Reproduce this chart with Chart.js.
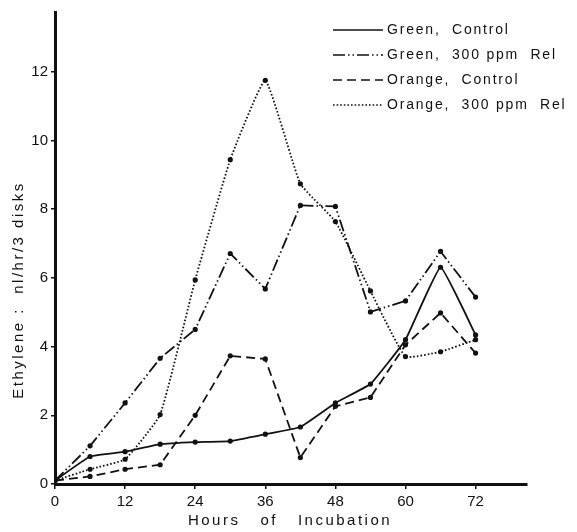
<!DOCTYPE html>
<html>
<head>
<meta charset="utf-8">
<script src="https://cdn.jsdelivr.net/npm/chart.js@4.4.0/dist/chart.umd.min.js"></script>
<style>
  html, body { margin: 0; padding: 0; background: #fff; }
</style>
</head>
<body>
<canvas id="chart" width="577" height="532"></canvas>
<script>
// --- data ---
const hours = [0, 6, 12, 18, 24, 30, 36, 42, 48, 54, 60, 66, 72];
const greenControl = [0.1, 0.80, 0.94, 1.16, 1.22, 1.25, 1.45, 1.66, 2.36, 2.91, 4.2, 6.31, 4.34];
const greenRel     = [0.1, 1.11, 2.36, 3.66, 4.50, 6.71, 5.68, 8.11, 8.08, 5.01, 5.33, 6.77, 5.44];
const orangeControl = [0.1, 0.22, 0.43, 0.56, 2.0, 3.73, 3.64, 0.77, 2.26, 2.52, 4.05, 4.98, 3.81];
const orangeRel    = [0.1, 0.43, 0.72, 2.02, 5.94, 9.44, 11.75, 8.74, 7.64, 5.62, 3.71, 3.85, 4.2];
const seriesNames = ['Green,  Control', 'Green,  300 ppm  Rel', 'Orange,  Control', 'Orange,  300 ppm  Rel'];
const xTicks = [0, 12, 24, 36, 48, 60, 72];
const yTicks = [0, 2, 4, 6, 8, 10, 12];

const ink = '#111';
const fontFamily = '"Liberation Sans", Arial, sans-serif';

const toPoints = vals => hours.map((h, i) => ({ x: h, y: vals[i] }));

function series(label, vals, dash, tension) {
  return {
    label,
    data: toPoints(vals),
    borderColor: ink,
    backgroundColor: ink,
    borderWidth: 1.8,
    borderDash: dash,
    tension,
    pointRadius: 2.6,
    pointBackgroundColor: ink,
    pointBorderWidth: 0,
    fill: false
  };
}

// legend + axis titles drawn by hand, with letter spacing like the print
const overlayText = {
  id: 'overlayText',
  afterDraw(chart) {
    const ctx = chart.ctx;
    ctx.save();
    ctx.fillStyle = ink;
    ctx.strokeStyle = ink;
    ctx.textBaseline = 'middle';
    ctx.font = '14px ' + fontFamily;
    ctx.letterSpacing = '1.8px';

    chart.data.datasets.forEach((ds, i) => {
      const y = 30 + i * 25;
      ctx.lineWidth = 1.6;
      ctx.setLineDash(ds.borderDash || []);
      ctx.beginPath();
      ctx.moveTo(333, y);
      ctx.lineTo(383, y);
      ctx.stroke();
      ctx.setLineDash([]);
      ctx.fillText(ds.label, 387, y);
    });

    ctx.font = '15px ' + fontFamily;
    ctx.letterSpacing = '2.5px';
    ctx.textAlign = 'center';
    ctx.fillText('Hours   of   Incubation', 290, 521);

    ctx.translate(19, 290);
    ctx.rotate(-Math.PI / 2);
    ctx.fillText('Ethylene :  nl/hr/3 disks', 0, 0);
    ctx.restore();
  }
};

new Chart(document.getElementById('chart'), {
  type: 'line',
  data: {
    datasets: [
      series(seriesNames[0], greenControl, [], 0.1),
      series(seriesNames[1], greenRel, [12, 3, 1.5, 3, 1.5, 3], 0),
      series(seriesNames[2], orangeControl, [9, 5], 0),
      series(seriesNames[3], orangeRel, [1.6, 2], 0.12)
    ]
  },
  options: {
    responsive: false,
    animation: false,
    layout: { padding: { top: 10, right: 50, left: 0, bottom: 0 } },
    plugins: {
      legend: { display: false },
      tooltip: { enabled: false }
    },
    scales: {
      x: {
        type: 'linear',
        min: 0,
        max: 80.8,
        afterBuildTicks: s => { s.ticks = xTicks.map(v => ({ value: v })); },
        afterFit: s => { s.height = 48; },
        grid: { drawOnChartArea: false, drawTicks: true, tickLength: 5, color: ink, lineWidth: 1.5 },
        border: { display: true, width: 3, color: ink },
        ticks: { color: ink, font: { size: 15, family: fontFamily }, padding: 4, maxRotation: 0 }
      },
      y: {
        min: 0,
        max: 13.74,
        afterBuildTicks: s => { s.ticks = yTicks.map(v => ({ value: v })); },
        afterFit: s => { s.width = 55; },
        grid: { drawOnChartArea: false, drawTicks: true, tickLength: 4, color: ink, lineWidth: 1.5 },
        border: { display: true, width: 3, color: ink },
        ticks: { color: ink, font: { size: 15, family: fontFamily }, padding: 3 }
      }
    }
  },
  plugins: [overlayText]
});
</script>
</body>
</html>
